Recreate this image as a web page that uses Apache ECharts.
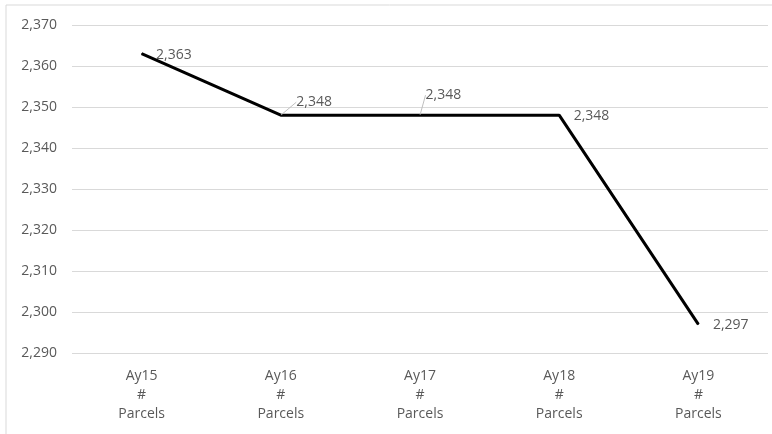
<!DOCTYPE html>
<html>
<head>
<meta charset="utf-8">
<script src="https://cdn.jsdelivr.net/npm/echarts@6/dist/echarts.min.js"></script>
<style>
  html, body { margin: 0; padding: 0; background: #fff; }
  #chart { width: 772px; height: 434px; }
</style>
</head>
<body>
<div id="chart"></div>
<script>
// data
var categories = ["Ay15\n#\nParcels", "Ay16\n#\nParcels", "Ay17\n#\nParcels", "Ay18\n#\nParcels", "Ay19\n#\nParcels"];
var parcels = [2363, 2348, 2348, 2348, 2297];
var labelShift = [[0, 1], [1, -13], [-9, -20], [0, 1], [0, 1]];
var withLeader = [false, true, true, false, false];

var font = "'Open Sans', sans-serif";
var chart = echarts.init(document.getElementById("chart"));

var seriesData = parcels.map(function (v, i) {
  return { value: v, labelLine: { show: withLeader[i] } };
});

chart.setOption({
  animation: false,
  textStyle: { fontFamily: font, color: "#595959" },
  graphic: [
    {
      type: "rect",
      silent: true,
      shape: { x: 6, y: 5, width: 900, height: 600 },
      style: { fill: "none", stroke: "#d9d9d9", lineWidth: 1 }
    }
  ],
  grid: { left: 72, right: 4, top: 25, bottom: 81 },
  xAxis: {
    type: "category",
    data: categories,
    boundaryGap: true,
    axisTick: { show: false },
    axisLine: { show: false },
    axisLabel: {
      color: "#595959",
      fontSize: 14,
      lineHeight: 19,
      margin: 14,
      interval: 0
    }
  },
  yAxis: {
    type: "value",
    min: 2290,
    max: 2370,
    interval: 10,
    axisLine: { show: false },
    axisTick: { show: false },
    splitLine: { lineStyle: { color: "#d9d9d9", width: 1 } },
    axisLabel: {
      color: "#595959",
      fontSize: 14,
      margin: 15,
      formatter: function (v) { return v.toLocaleString("en-US"); }
    }
  },
  series: [
    {
      type: "line",
      data: seriesData,
      symbol: "circle",
      symbolSize: 1,
      showSymbol: true,
      itemStyle: { color: "#000" },
      lineStyle: { color: "#000", width: 3 },
      label: {
        show: true,
        position: "right",
        distance: 14,
        color: "#595959",
        fontSize: 14,
        fontFamily: font,
        formatter: function (p) { return p.value.toLocaleString("en-US"); }
      },
      labelLine: {
        show: false,
        lineStyle: { color: "#bfbfbf", width: 1 }
      },
      labelLayout: function (params) {
        var s = labelShift[params.dataIndex];
        return { dx: s[0], dy: s[1] };
      }
    }
  ]
});
</script>
</body>
</html>
